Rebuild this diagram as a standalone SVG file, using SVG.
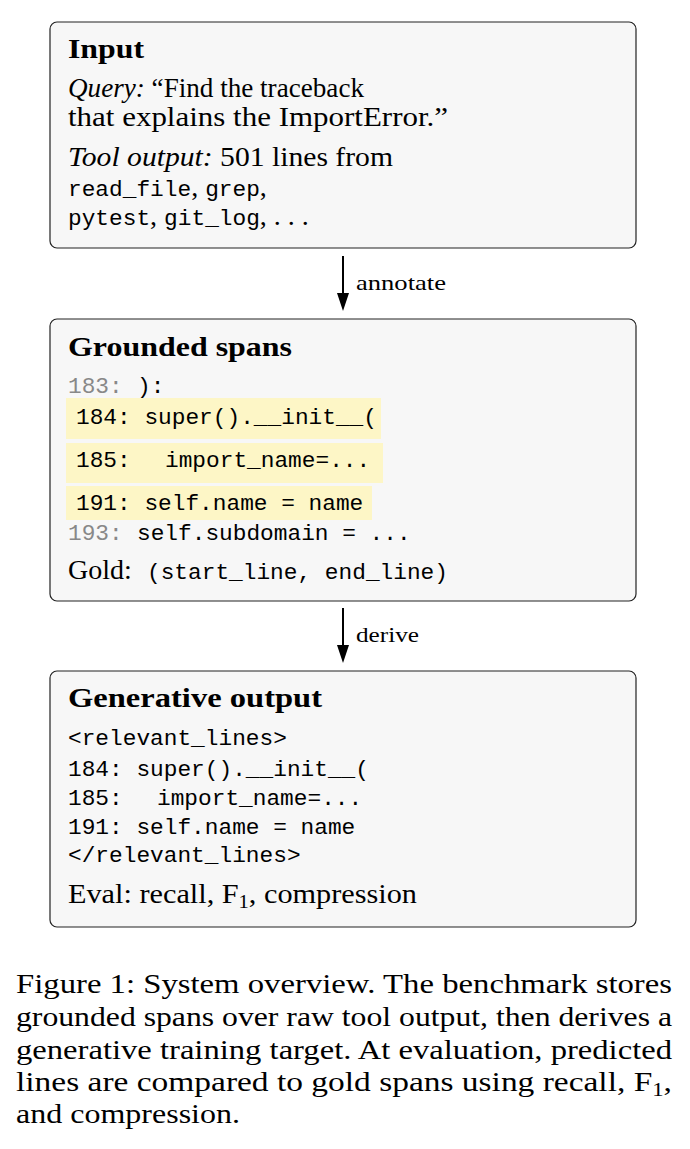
<svg xmlns="http://www.w3.org/2000/svg" width="690" height="1149" viewBox="0 0 690 1149">
<defs>
<style>
.box{fill:#f7f7f7;stroke:#222;stroke-width:1.2}
.hl{fill:#fdf6c6}
.t{font-family:"Liberation Serif","Times New Roman",serif;font-size:28px;fill:#000}
.b{font-weight:bold}
.i{font-style:italic}
.m{font-family:"Liberation Mono","Courier New",monospace;font-size:22.8px;fill:#000}
.g{fill:#888}
.lbl{font-family:"Liberation Serif","Times New Roman",serif;font-size:21px;fill:#000}
.conn{stroke:#000;stroke-width:2;fill:none}
</style>
<marker id="arr" markerWidth="18" markerHeight="12" viewBox="0 0 18 12" refX="4" refY="6" orient="auto" markerUnits="userSpaceOnUse">
<path d="M0,0 L18,6 L0,12 Z" fill="#000"/>
</marker>
</defs>
<rect width="690" height="1149" fill="#fff"/>

<g id="node-input">
<rect class="box" x="50" y="22" width="586" height="226" rx="7"/>
<text class="t b" x="68" y="58" textLength="76" lengthAdjust="spacingAndGlyphs">Input</text>
<text class="t" x="68" y="97" textLength="296" lengthAdjust="spacingAndGlyphs"><tspan class="i">Query:</tspan>  “Find the traceback</text>
<text class="t" x="68" y="126" textLength="380" lengthAdjust="spacingAndGlyphs">that explains the ImportError.”</text>
<text class="t" x="68" y="166" textLength="325" lengthAdjust="spacingAndGlyphs"><tspan class="i">Tool output:</tspan>  501 lines from</text>
<text class="t" x="68" y="196"><tspan class="m">read_file</tspan>, <tspan class="m">grep</tspan>,</text>
<text class="t" x="68" y="225"><tspan class="m">pytest</tspan>, <tspan class="m">git_log</tspan>, . . .</text>
</g>

<g id="node-grounded">
<rect class="box" x="50" y="319" width="586" height="282" rx="7"/>
<text class="t b" x="68" y="356" textLength="224" lengthAdjust="spacingAndGlyphs">Grounded spans</text>
<text class="m" x="68" y="393"><tspan class="g">183:</tspan><tspan x="137">):</tspan></text>
<rect class="hl" x="66" y="398" width="315" height="41"/>
<rect class="hl" x="66" y="443" width="317" height="40"/>
<rect class="hl" x="66" y="486" width="306" height="34"/>
<text class="m" x="76" y="424">184: super().__init__(</text>
<text class="m" x="76" y="467">185:<tspan x="165">import_name=...</tspan></text>
<text class="m" x="76" y="510">191: self.name = name</text>
<text class="m" x="68" y="540"><tspan class="g">193:</tspan><tspan x="137">self.subdomain = ...</tspan></text>
<text class="t" x="68" y="579">Gold: <tspan class="m" x="147">(start_line, end_line)</tspan></text>
</g>

<g id="node-generative">
<rect class="box" x="50" y="671" width="586" height="256" rx="7"/>
<text class="t b" x="68" y="707" textLength="254" lengthAdjust="spacingAndGlyphs">Generative output</text>
<text class="m" x="68" y="745">&lt;relevant_lines&gt;</text>
<text class="m" x="68" y="776">184: super().__init__(</text>
<text class="m" x="68" y="805">185:<tspan x="157">import_name=...</tspan></text>
<text class="m" x="68" y="834">191: self.name = name</text>
<text class="m" x="68" y="862">&lt;/relevant_lines&gt;</text>
<text class="t" x="68" y="903" textLength="349" lengthAdjust="spacingAndGlyphs">Eval:  recall, F<tspan font-size="19" dy="5">1</tspan><tspan dy="-5">, compression</tspan></text>
</g>

<g id="connectors">
<line class="conn" x1="343" y1="256" x2="343" y2="297" marker-end="url(#arr)"/>
<text class="lbl" x="356" y="290" textLength="90" lengthAdjust="spacingAndGlyphs">annotate</text>
<line class="conn" x1="343" y1="608" x2="343" y2="649" marker-end="url(#arr)"/>
<text class="lbl" x="356" y="642" textLength="63" lengthAdjust="spacingAndGlyphs">derive</text>
</g>

<g id="caption">
<text class="t" x="16" y="993" textLength="656" lengthAdjust="spacingAndGlyphs">Figure 1: System overview.  The benchmark stores</text>
<text class="t" x="16" y="1026" textLength="656" lengthAdjust="spacingAndGlyphs">grounded spans over raw tool output, then derives a</text>
<text class="t" x="16" y="1059" textLength="656" lengthAdjust="spacingAndGlyphs">generative training target.  At evaluation, predicted</text>
<text class="t" x="16" y="1091" textLength="656" lengthAdjust="spacingAndGlyphs">lines are compared to gold spans using recall, F<tspan font-size="19" dy="5">1</tspan><tspan dy="-5">,</tspan></text>
<text class="t" x="16" y="1123" textLength="224" lengthAdjust="spacingAndGlyphs">and compression.</text>
</g>
</svg>
